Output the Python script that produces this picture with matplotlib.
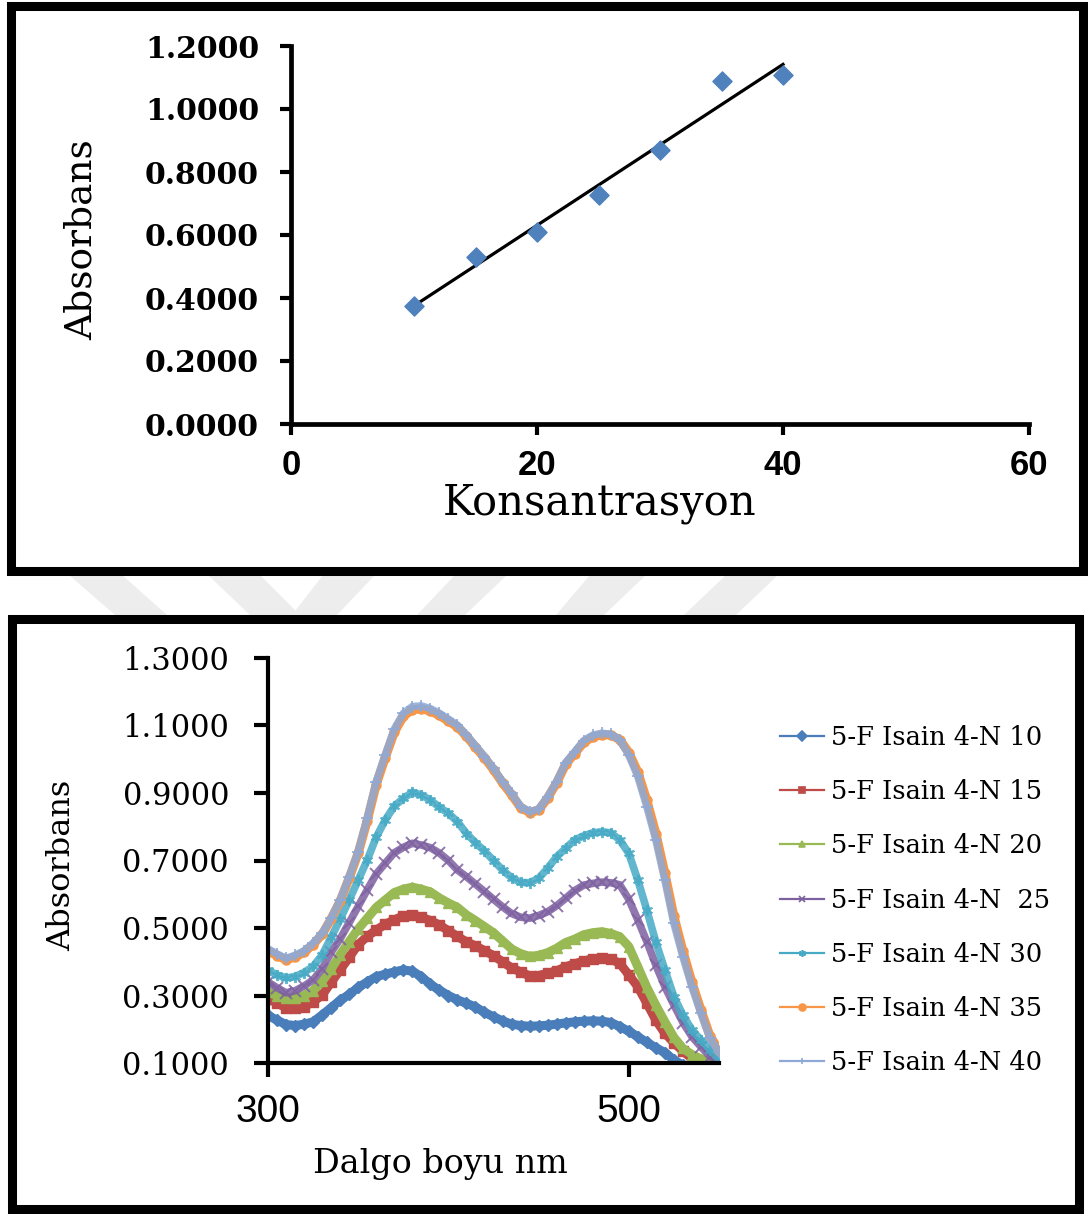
import numpy as np
import matplotlib.pyplot as plt
from matplotlib.patches import Rectangle, Polygon
from matplotlib.lines import Line2D

# calibration curve
konsantrasyon = [10, 15, 20, 25, 30, 35, 40]
absorbans = [0.375, 0.530, 0.610, 0.727, 0.870, 1.089, 1.108]

# UV-Vis spectra, 300-550 nm every 5 nm
dalga_boyu = list(range(300, 551, 5))
abs_10 = [0.241, 0.227, 0.214, 0.211, 0.215, 0.222, 0.242, 0.264, 0.286, 0.303, 0.324, 0.340, 0.356,
          0.363, 0.370, 0.376, 0.372, 0.356, 0.333, 0.316, 0.300, 0.287, 0.277, 0.266, 0.250, 0.237,
          0.225, 0.215, 0.211, 0.209, 0.210, 0.212, 0.215, 0.219, 0.222, 0.224, 0.225, 0.224, 0.220,
          0.208, 0.194, 0.178, 0.161, 0.145, 0.131, 0.109, 0.094, 0.080, 0.068, 0.058, 0.050]
abs_15 = [0.291, 0.277, 0.264, 0.262, 0.267, 0.281, 0.301, 0.339, 0.376, 0.413, 0.451, 0.475, 0.494,
          0.511, 0.524, 0.536, 0.539, 0.532, 0.522, 0.509, 0.492, 0.475, 0.459, 0.447, 0.433, 0.418,
          0.400, 0.382, 0.370, 0.358, 0.359, 0.366, 0.373, 0.385, 0.394, 0.402, 0.409, 0.410, 0.408,
          0.395, 0.361, 0.326, 0.277, 0.227, 0.188, 0.160, 0.135, 0.113, 0.099, 0.089, 0.081]
abs_20 = [0.310, 0.300, 0.292, 0.294, 0.300, 0.314, 0.342, 0.378, 0.421, 0.460, 0.497, 0.529, 0.561,
          0.583, 0.605, 0.615, 0.621, 0.615, 0.607, 0.589, 0.574, 0.561, 0.539, 0.522, 0.504, 0.486,
          0.462, 0.438, 0.424, 0.416, 0.419, 0.427, 0.440, 0.457, 0.467, 0.480, 0.486, 0.489, 0.484,
          0.474, 0.445, 0.385, 0.324, 0.271, 0.222, 0.176, 0.143, 0.125, 0.112, 0.102, 0.095]
abs_25 = [0.340, 0.323, 0.308, 0.314, 0.328, 0.346, 0.379, 0.428, 0.468, 0.516, 0.564, 0.613, 0.660,
          0.692, 0.723, 0.739, 0.751, 0.746, 0.738, 0.722, 0.700, 0.672, 0.652, 0.630, 0.608, 0.585,
          0.563, 0.543, 0.532, 0.529, 0.537, 0.548, 0.566, 0.588, 0.611, 0.627, 0.632, 0.636, 0.634,
          0.628, 0.585, 0.524, 0.460, 0.390, 0.326, 0.272, 0.220, 0.178, 0.148, 0.119, 0.105]
abs_30 = [0.375, 0.361, 0.352, 0.356, 0.368, 0.386, 0.420, 0.472, 0.526, 0.583, 0.642, 0.701, 0.769,
          0.820, 0.861, 0.884, 0.902, 0.894, 0.879, 0.858, 0.840, 0.815, 0.780, 0.753, 0.728, 0.700,
          0.672, 0.649, 0.635, 0.634, 0.647, 0.677, 0.711, 0.736, 0.761, 0.773, 0.782, 0.785, 0.782,
          0.761, 0.721, 0.642, 0.553, 0.458, 0.376, 0.297, 0.242, 0.198, 0.168, 0.140, 0.111]
abs_35 = [0.432, 0.418, 0.406, 0.414, 0.428, 0.451, 0.481, 0.527, 0.580, 0.648, 0.722, 0.818, 0.925,
          1.005, 1.080, 1.127, 1.147, 1.150, 1.143, 1.130, 1.113, 1.096, 1.068, 1.036, 1.004, 0.969,
          0.930, 0.895, 0.857, 0.842, 0.849, 0.885, 0.930, 0.985, 1.017, 1.050, 1.066, 1.073, 1.072,
          1.058, 1.020, 0.962, 0.878, 0.780, 0.662, 0.535, 0.432, 0.339, 0.257, 0.180, 0.138]
abs_40 = [0.438, 0.423, 0.410, 0.419, 0.432, 0.455, 0.484, 0.529, 0.583, 0.652, 0.726, 0.825, 0.934,
          1.013, 1.089, 1.136, 1.156, 1.158, 1.150, 1.136, 1.119, 1.101, 1.072, 1.040, 1.008, 0.973,
          0.934, 0.899, 0.860, 0.845, 0.852, 0.889, 0.934, 0.990, 1.022, 1.055, 1.071, 1.077, 1.074,
          1.057, 1.013, 0.949, 0.860, 0.761, 0.642, 0.514, 0.415, 0.326, 0.247, 0.173, 0.134]

seri_adlari = ['5-F Isain 4-N 10', '5-F Isain 4-N 15', '5-F Isain 4-N 20', '5-F Isain 4-N  25',
               '5-F Isain 4-N 30', '5-F Isain 4-N 35', '5-F Isain 4-N 40']
seriler = [abs_10, abs_15, abs_20, abs_25, abs_30, abs_35, abs_40]
renkler = ['#4A7EBB', '#BE4B48', '#98B954', '#7D60A0', '#46AAC5', '#F79646', '#8EA9D6']
isaretler = ['D', 's', '^', 'x', (6, 2, 0), 'o', '+']

SERIF = 'DejaVu Serif'
W, H = 1088, 1214

fig = plt.figure(figsize=(W / 100, H / 100), dpi=100)
fig.patch.set_facecolor('white')


def fx(px):
    return px / W


def fy(py):
    return 1 - py / H


# faint watermark bands in the gap between the two panels
bantlar = [
    [(69, 575), (122, 575), (167, 615), (115, 615)],
    [(208, 575), (260, 575), (300, 615), (250, 615)],
    [(323, 575), (375, 575), (337, 615), (292, 615)],
    [(455, 575), (507, 575), (465, 615), (417, 615)],
    [(590, 575), (646, 575), (604, 615), (556, 615)],
    [(726, 575), (778, 575), (736, 615), (684, 615)],
]
for b in bantlar:
    fig.patches.append(Polygon([(fx(x), fy(y)) for x, y in b], closed=True,
                               transform=fig.transFigure, fc='#ededed', ec='none', zorder=0))

# panel frames
fig.patches.append(Rectangle((fx(11), fy(571)), fx(1083) - fx(11), fy(6) - fy(571),
                             transform=fig.transFigure, fill=False, lw=6.5, ec='black', zorder=5))
fig.patches.append(Rectangle((fx(11.5), fy(1209)), fx(1079) - fx(11.5), fy(619) - fy(1209),
                             transform=fig.transFigure, fill=False, lw=6.5, ec='black', zorder=5))

# ---- calibration plot ----
ax1 = fig.add_axes([fx(291), fy(424), fx(1029) - fx(291), fy(46) - fy(424)])
ax1.patch.set_alpha(0)
ax1.scatter(konsantrasyon, absorbans, marker='D', s=95, color='#4F81BD', zorder=3, clip_on=False)
egim, kesim = np.polyfit(konsantrasyon, absorbans, 1)
xs = np.array([min(konsantrasyon), max(konsantrasyon)])
ax1.plot(xs, egim * xs + kesim, color='black', lw=2.3, zorder=2)

ax1.set_xlim(0, 60)
ax1.set_ylim(0, 1.2)
ax1.set_xticks([0, 20, 40, 60])
ax1.set_yticks(np.arange(0, 1.21, 0.2))
ax1.set_yticklabels([f'{v:.4f}' for v in np.arange(0, 1.21, 0.2)])
for s in ['top', 'right']:
    ax1.spines[s].set_visible(False)
for s in ['left', 'bottom']:
    ax1.spines[s].set_linewidth(3.4)
ax1.tick_params(axis='both', direction='out', length=8, width=3)
ax1.tick_params(axis='x', pad=10)
ax1.tick_params(axis='y', pad=15)
for lab in ax1.get_xticklabels():
    lab.set_fontfamily('Liberation Sans')
    lab.set_fontweight('bold')
    lab.set_fontsize(25)
for lab in ax1.get_yticklabels():
    lab.set_fontfamily(SERIF)
    lab.set_fontweight('bold')
    lab.set_fontsize(21.5)

fig.text(fx(600), fy(515), 'Konsantrasyon', family=SERIF, fontsize=30, ha='center', va='baseline')
fig.text(fx(82), fy(240), 'Absorbans', family=SERIF, fontsize=27, rotation=90,
         ha='center', va='center')

# ---- spectra plot ----
ax2 = fig.add_axes([fx(268), fy(1063), fx(719) - fx(268), fy(658) - fy(1063)])
ax2.patch.set_alpha(0)
for veri, renk, isaret in zip(seriler, renkler, isaretler):
    if isaret in ('x', '+') or isinstance(isaret, tuple):
        ax2.plot(dalga_boyu, veri, color=renk, lw=5.5, alpha=0.85, marker=isaret, ms=8, mew=1.4)
    else:
        ax2.plot(dalga_boyu, veri, color=renk, lw=6.5, marker=isaret, ms=6.5, mec=renk)

ax2.set_xlim(300, 550)
ax2.set_ylim(0.1, 1.3)
ax2.set_xticks([300, 500])
ax2.set_yticks(np.arange(0.1, 1.31, 0.2))
ax2.set_yticklabels([f'{v:.4f}' for v in np.arange(0.1, 1.31, 0.2)])
for s in ['top', 'right']:
    ax2.spines[s].set_visible(False)
for s in ['left', 'bottom']:
    ax2.spines[s].set_linewidth(3)
ax2.tick_params(axis='both', direction='out', length=10, width=3)
ax2.tick_params(axis='x', pad=12)
ax2.tick_params(axis='y', pad=18)
for lab in ax2.get_xticklabels():
    lab.set_fontfamily('Liberation Sans')
    lab.set_fontsize(28)
for lab in ax2.get_yticklabels():
    lab.set_fontfamily(SERIF)
    lab.set_fontsize(22)

fig.text(fx(440), fy(1173), 'Dalgo boyu nm', family=SERIF, fontsize=24, ha='center', va='baseline')
fig.text(fx(62), fy(865), 'Absorbans', family=SERIF, fontsize=23, rotation=90,
         ha='center', va='center')

tutamaklar = [Line2D([], [], color=r, lw=1.6, marker=m, ms=5, mew=1.2)
              for r, m in zip(renkler, isaretler)]
fig.legend(tutamaklar, seri_adlari, loc='center left', bbox_to_anchor=(fx(780), fy(900)),
           frameon=False, prop={'family': SERIF, 'size': 18.5}, handlelength=1.7,
           handletextpad=0.3, labelspacing=1.13, borderpad=0, borderaxespad=0)

fig.savefig('out.png', dpi=100)
